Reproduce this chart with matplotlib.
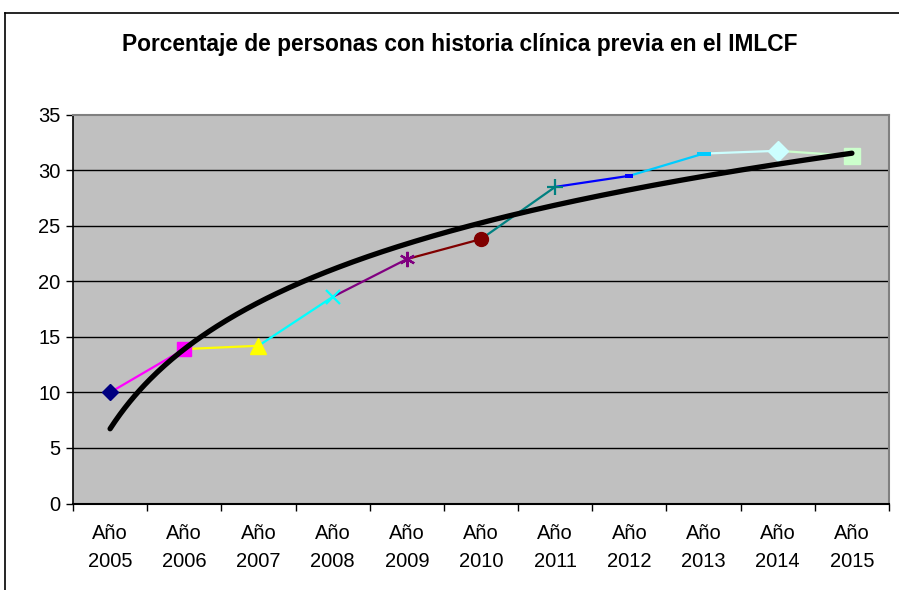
import numpy as np
import matplotlib
matplotlib.use("Agg")
import matplotlib.pyplot as plt
from matplotlib.lines import Line2D

plt.rcParams['font.family'] = ['Liberation Sans', 'DejaVu Sans']

years = ["2005", "2006", "2007", "2008", "2009", "2010", "2011", "2012", "2013", "2014", "2015"]
tick_labels = ["Año\n" + y for y in years]
values = [10.0, 13.9, 14.2, 18.6, 22.0, 23.8, 28.5, 29.5, 31.5, 31.75, 31.3]
point_colors = ["#000080", "#FF00FF", "#FFFF00", "#00FFFF", "#800080", "#800000",
                "#008080", "#0000FF", "#00CCFF", "#CCFFFF", "#CCFFCC"]
title = "Porcentaje de personas con historia clínica previa en el IMLCF"

W, H = 899, 590
fig = plt.figure(figsize=(W / 100, H / 100), dpi=100)

# chart area border (left and top visible)
fig.add_artist(Line2D([5 / W, 5 / W], [0, 1 - 13 / H], transform=fig.transFigure,
                      color="#000000", lw=1.2))
fig.add_artist(Line2D([5 / W, 1], [1 - 13 / H, 1 - 13 / H], transform=fig.transFigure,
                      color="#000000", lw=1.2))

left, right, top, bottom = 73, 889, 114.7, 503.5
ax = fig.add_axes([left / W, 1 - bottom / H, (right - left) / W, (bottom - top) / H])
ax.set_facecolor("#C0C0C0")

x = np.arange(len(values))

# gridlines
for gv in range(5, 35, 5):
    ax.axhline(gv, color="#000000", lw=1.0, zorder=1)

# segments colored by destination point
for i in range(1, len(values)):
    ax.plot(x[i - 1:i + 1], values[i - 1:i + 1], color=point_colors[i], lw=1.6, zorder=3,
            solid_capstyle="butt")

# markers
dash_short = [(-1, -0.5), (1, -0.5), (1, 0.5), (-1, 0.5), (-1, -0.5)]
dash_long = [(-1.75, -0.5), (1.75, -0.5), (1.75, 0.5), (-1.75, 0.5), (-1.75, -0.5)]
marker_specs = [
    dict(marker="D", ms=8, mec=point_colors[0], mfc=point_colors[0]),
    dict(marker="s", ms=10, mec=point_colors[1], mfc=point_colors[1]),
    dict(marker="^", ms=11, mec=point_colors[2], mfc=point_colors[2]),
    dict(marker="x", ms=10, mew=1.6, mec=point_colors[3]),
    dict(marker=(6, 2, 0), ms=11, mew=1.6, mec=point_colors[4]),
    dict(marker="o", ms=10, mec=point_colors[5], mfc=point_colors[5]),
    dict(marker="+", ms=11, mew=1.6, mec=point_colors[6]),
    dict(marker=dash_short, ms=6, mew=0, mfc=point_colors[7]),
    dict(marker=dash_long, ms=10, mew=0, mfc=point_colors[8]),
    dict(marker="D", ms=10, mec=point_colors[9], mfc=point_colors[9]),
    dict(marker="s", ms=11, mec=point_colors[10], mfc=point_colors[10]),
]
for i, spec in enumerate(marker_specs):
    ax.plot([x[i]], [values[i]], linestyle="none", zorder=4, **spec)

# logarithmic trend line
lx = np.log(x + 1)
a, b = np.polyfit(lx, values, 1)
xs = np.linspace(0, len(values) - 1, 300)
ax.plot(xs, a * np.log(xs + 1) + b, color="black", lw=3.8, zorder=5, solid_capstyle="round")

ax.set_xlim(-0.5, len(values) - 0.5)
ax.set_ylim(0, 35)
ax.set_yticks(range(0, 36, 5))
ax.set_xticks(x)
ax.set_xticklabels(tick_labels, fontsize=14.5, linespacing=1.55)
ax.set_xticks(np.arange(-0.5, len(values), 1), minor=True)
ax.tick_params(axis="x", which="major", length=0, pad=15)
ax.tick_params(axis="x", which="minor", length=5, width=1, color="black", direction="out")
ax.tick_params(axis="y", length=5, width=1, labelsize=14.5, pad=4, direction="out")

for s in ["top", "right"]:
    ax.spines[s].set_color("#808080")
    ax.spines[s].set_linewidth(1.5)
ax.spines["left"].set_color("#000000")
ax.spines["bottom"].set_color("#000000")
ax.spines["left"].set_linewidth(1.2)
ax.spines["bottom"].set_linewidth(1.5)

fig.text(460 / W, 1 - 44 / H, title, ha="center", va="center", fontsize=16.4, fontweight="bold")

fig.savefig("out.png", dpi=100)
